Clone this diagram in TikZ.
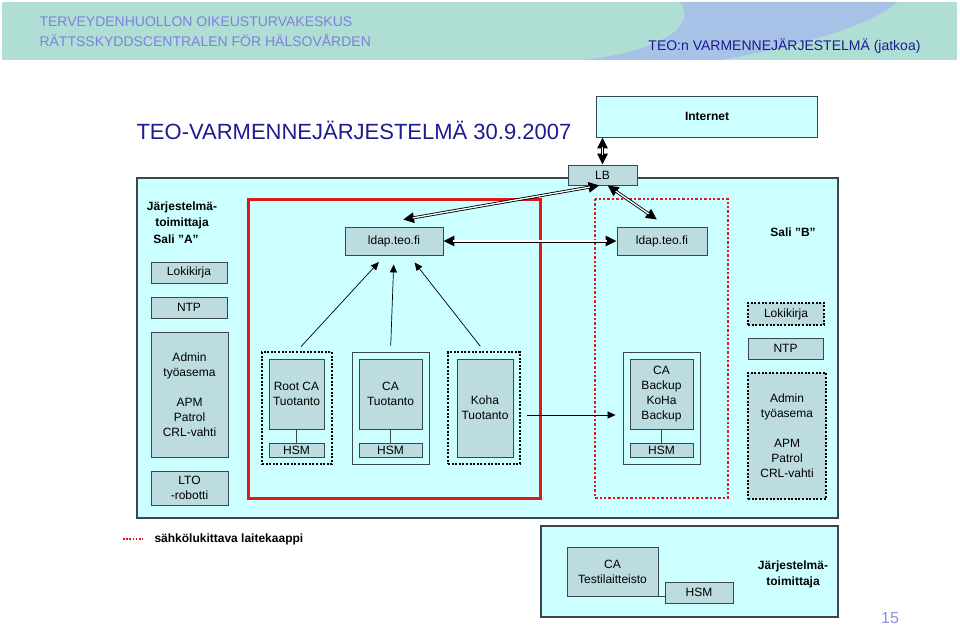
\documentclass[tikz,border=0pt]{standalone}
\usepackage{fontspec}
\setmainfont{Liberation Sans}
\usetikzlibrary{arrows.meta,positioning,calc}
\definecolor{band}{HTML}{AEDED4}
\definecolor{swoosh}{HTML}{A7C2E6}
\definecolor{hdrlight}{HTML}{8080E0}
\definecolor{hdrdark}{HTML}{1C1C8E}
\definecolor{room}{HTML}{CCFFFF}
\definecolor{boxblue}{HTML}{BDDCE0}
\definecolor{edgegray}{HTML}{3A474C}
\definecolor{lockred}{HTML}{E01818}
\definecolor{pagenum}{HTML}{9090D8}
\tikzset{
  hwbox/.style={
    rectangle, draw=edgegray, fill=boxblue, line width=0.8pt,
    inner sep=0pt, align=center,
    font=\fontsize{12}{15}\selectfont
  },
  lockbox/.style={
    rectangle, draw=black, line width=2pt,
    dash pattern=on 2pt off 1.6pt, inner sep=0pt
  },
  rackbox/.style={rectangle, draw=edgegray, line width=0.8pt, inner sep=0pt},
  roomlabel/.style={font=\bfseries\fontsize{12}{16}\selectfont, align=center},
  reqarrow/.style={-{Triangle[length=8pt,width=7pt]}, line width=0.7pt},
  dblarrow/.style={
    {Triangle[length=11pt,width=10pt]}-{Triangle[length=11pt,width=10pt]},
    line width=3pt,
    postaction={draw=white, -, line width=1.3pt, shorten <=10pt, shorten >=10pt}
  },
}

\begin{document}
\begin{tikzpicture}[x=1pt, y=-1pt]
  \useasboundingbox (0,0) rectangle (960,626);
  % Header
  \fill[band] (2,2) rectangle (957,60);
  \fill[swoosh] (680,2) .. controls (700,30) and (650,52) .. (585,60)
    -- (720,60) .. controls (820,42) and (875,22) .. (897,2) -- cycle;
  \node[anchor=west, text=hdrlight, font=\fontsize{14}{20}\selectfont, align=left]
    (org) at (36,32) {TERVEYDENHUOLLON OIKEUSTURVAKESKUS\\RÄTTSSKYDDSCENTRALEN FÖR HÄLSOVÅRDEN};
  \node[anchor=east, text=hdrdark, font=\fontsize{14}{20}\selectfont]
    (subject) at (924,46) {TEO:n VARMENNEJÄRJESTELMÄ (jatkoa)};
  \node[anchor=west, text=hdrdark, font=\fontsize{22}{26}\selectfont]
    (title) at (133,130) {TEO-VARMENNEJÄRJESTELMÄ 30.9.2007};

  % Rooms
  \draw[fill=room, draw=edgegray, line width=1.4pt] (137,178) rectangle (838,518);
  \draw[lockred, line width=3pt] (248,199) rectangle (540,498);
  \draw[lockred, line width=2.4pt, dash pattern=on 2.4pt off 2pt] (595,199) rectangle (728,498);

  % Internet and load balancer
  \node[hwbox, fill=room, minimum width=221pt, minimum height=41pt,
    font=\bfseries\fontsize{12}{15}\selectfont] (internet) at (707,116.5) {Internet};
  \node[hwbox, minimum width=69pt, minimum height=20pt] (lb) at (602.5,175) {LB};
  \node[hwbox, minimum width=98pt, minimum height=28pt] (ldapA) at (394,241) {ldap.teo.fi};
  \node[hwbox, minimum width=90pt, minimum height=28pt] (ldapB) at (662,241) {ldap.teo.fi};

  % Sali A
  \node[roomlabel] (vendorA) at (182,215) {Järjestelmä-\\toimittaja};
  \node[roomlabel] (saliA) at (176,239) {Sali "A"};
  \node[hwbox, minimum width=76pt, minimum height=21pt] (lokiA) at (189,272.5) {Lokikirja};
  \node[hwbox, minimum width=76pt, minimum height=21pt] (ntpA) at (189,307.5) {NTP};
  \node[hwbox, minimum width=77pt, minimum height=125pt] (adminA) at (189.5,394.5)
    {Admin\\työasema\\[15pt]APM\\Patrol\\CRL-vahti};
  \node[hwbox, minimum width=77pt, minimum height=34pt] (ltoA) at (189.5,488) {LTO\\-robotti};

  \node[lockbox, minimum width=70pt, minimum height=112pt] (rootgrp) at (297,408) {};
  \node[hwbox, minimum width=55pt, minimum height=70pt] (rootca) at (296.5,394) {Root CA\\Tuotanto};
  \node[hwbox, minimum width=55pt, minimum height=14pt] (roothsm) at (296.5,450) {HSM};
  \draw[edgegray, line width=0.8pt] (rootca) -- (roothsm);

  \node[rackbox, minimum width=77pt, minimum height=112pt] (cagrp) at (390.5,408) {};
  \node[hwbox, minimum width=63pt, minimum height=70pt] (ca) at (390.5,394) {CA\\Tuotanto};
  \node[hwbox, minimum width=63pt, minimum height=14pt] (cahsm) at (390.5,450) {HSM};
  \draw[edgegray, line width=0.8pt] (ca) -- (cahsm);

  \node[lockbox, minimum width=72pt, minimum height=112pt] (kohagrp) at (484,408) {};
  \node[hwbox, minimum width=56pt, minimum height=98pt] (koha) at (485,408) {Koha\\Tuotanto};

  % Sali B
  \node[roomlabel] (saliB) at (793,232) {Sali "B"};
  \node[rackbox, minimum width=77pt, minimum height=112pt] (bkgrp) at (661.5,408) {};
  \node[hwbox, minimum width=63pt, minimum height=70pt] (bk) at (661.5,394) {CA\\Backup\\KoHa\\Backup};
  \node[hwbox, minimum width=63pt, minimum height=14pt] (bkhsm) at (661.5,450) {HSM};
  \draw[edgegray, line width=0.8pt] (bk) -- (bkhsm);

  \node[hwbox, lockbox, fill=boxblue, minimum width=76pt, minimum height=22pt] (lokiB) at (786,314) {Lokikirja};
  \node[hwbox, minimum width=75pt, minimum height=21pt] (ntpB) at (785.5,348.5) {NTP};
  \node[hwbox, lockbox, fill=boxblue, minimum width=78pt, minimum height=126pt] (adminB) at (787,436)
    {Admin\\työasema\\[15pt]APM\\Patrol\\CRL-vahti};

  % Connections
  \draw[dblarrow] (lb.north) -- (lb.north |- internet.south);
  \draw[dblarrow] ([xshift=-3pt]lb.south) -- ([xshift=9pt,yshift=7pt]ldapA.north);
  \draw[dblarrow] ([xshift=5pt]lb.south) -- ([xshift=-5pt,yshift=7pt]ldapB.north);
  \draw[dblarrow] (ldapA.east) -- (ldapB.west);
  \draw[reqarrow, shorten <=6pt, shorten >=9pt] (rootgrp.north) -- ([xshift=-9pt]ldapA.south);
  \draw[reqarrow, shorten <=6pt, shorten >=9pt] (cagrp.north) -- (ldapA.south);
  \draw[reqarrow, shorten <=6pt, shorten >=9pt] (kohagrp.north) -- ([xshift=15pt]ldapA.south);
  \draw[reqarrow, shorten <=6pt, shorten >=7pt] ([yshift=-7pt]kohagrp.east) -- ([yshift=-7pt]bkgrp.west);

  % Legend
  \node[roomlabel, anchor=west] (legend) at (151,539) {sähkölukittava laitekaappi};
  \coordinate (legdot) at (123,539);
  \draw[lockred, line width=1.6pt, dash pattern=on 1.6pt off 1.6pt, shorten >=8pt]
    (legdot) -- (legend.west);

  % Test equipment
  \draw[fill=room, draw=edgegray, line width=1.4pt] (541,526) rectangle (838,617);
  \node[hwbox, minimum width=91pt, minimum height=49pt] (testca) at (612.5,571.5) {CA\\Testilaitteisto};
  \node[hwbox, minimum width=68pt, minimum height=21pt] (testhsm) at (699,592.5) {HSM};
  \draw[edgegray, line width=0.8pt] (testca.south east) -- (testhsm.west |- testca.south);
  \node[roomlabel] (vendorB) at (793,574) {Järjestelmä-\\toimittaja};

  \node[text=pagenum, font=\fontsize{16}{18}\selectfont] (page) at (890,618) {15};
\end{tikzpicture}
\end{document}
